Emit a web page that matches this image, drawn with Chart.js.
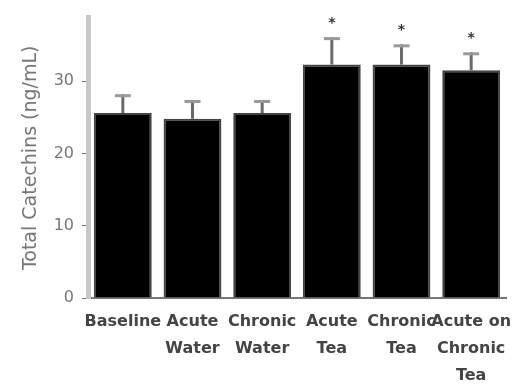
<!DOCTYPE html>
<html>
<head>
<meta charset="utf-8">
<script src="https://cdn.jsdelivr.net/npm/chart.js@4"></script>
<style>
  body { margin: 0; background: #fff; }
  #wrap { width: 523px; height: 387px; }
</style>
</head>
<body>
<div id="wrap"><canvas id="catechinChart"></canvas></div>
<script>
// data
const groups = [['Baseline'], ['Acute', 'Water'], ['Chronic', 'Water'], ['Acute', 'Tea'], ['Chronic', 'Tea'], ['Acute on', 'Chronic', 'Tea']];
const means = [25.6, 24.8, 25.6, 32.3, 32.3, 31.5];
const errors = [2.6, 2.6, 1.8, 3.8, 2.8, 2.5];
const marks = ['', '', '', '*', '*', '*'];
const yTicks = [0, 10, 20, 30];

// error bars + significance stars
const errorBars = {
  id: 'errorBars',
  afterDatasetsDraw(chart) {
    const ctx = chart.ctx;
    const y = chart.scales.y;
    const meta = chart.getDatasetMeta(0);
    ctx.save();
    meta.data.forEach(function (bar, i) {
      const top = y.getPixelForValue(means[i] + errors[i]);
      const base = y.getPixelForValue(means[i]);
      ctx.fillStyle = '#6a6a6a';
      ctx.fillRect(bar.x - 1.5, top, 3, base - top);
      ctx.fillStyle = '#999';
      ctx.fillRect(bar.x - 8, top, 16, 3);
      if (marks[i]) {
        ctx.fillStyle = '#333';
        ctx.font = 'bold 14px "DejaVu Sans"';
        ctx.textAlign = 'center';
        ctx.textBaseline = 'middle';
        ctx.fillText(marks[i], bar.x, top - 14);
      }
    });
    ctx.restore();
  }
};

new Chart(document.getElementById('catechinChart'), {
  type: 'bar',
  data: {
    labels: groups,
    datasets: [{
      data: means,
      backgroundColor: '#000',
      borderColor: '#444',
      borderWidth: 2,
      barPercentage: 0.83,
      categoryPercentage: 1
    }]
  },
  options: {
    responsive: true,
    maintainAspectRatio: false,
    animation: false,
    layout: { padding: { top: 12, right: 17, left: 0, bottom: 0 } },
    plugins: { legend: { display: false }, tooltip: { enabled: false } },
    scales: {
      x: {
        grid: { display: false, drawTicks: false },
        border: { color: '#777', width: 2 },
        ticks: {
          color: '#444',
          font: { family: 'DejaVu Sans', size: 16, weight: 'bold', lineHeight: 1.7 },
          padding: 10,
          maxRotation: 0,
          autoSkip: false
        },
        afterFit(scale) {
          scale.height = 89;
          scale.paddingLeft = 0;
          scale.paddingRight = 0;
        }
      },
      y: {
        min: 0,
        max: 38.8,
        afterBuildTicks(scale) {
          scale.ticks = yTicks.map(v => ({ value: v }));
        },
        grid: { drawOnChartArea: false, tickLength: 6, color: '#777' },
        border: { color: '#c8c8c8', width: 5 },
        ticks: {
          color: '#777',
          font: { family: 'DejaVu Sans', size: 16 },
          padding: 8
        },
        title: {
          display: true,
          text: 'Total Catechins (ng/mL)',
          color: '#777',
          font: { family: 'DejaVu Sans', size: 19 },
          padding: { top: 20, bottom: 0 }
        },
        afterFit(scale) {
          scale.width = 88;
        }
      }
    }
  },
  plugins: [errorBars]
});
</script>
</body>
</html>
